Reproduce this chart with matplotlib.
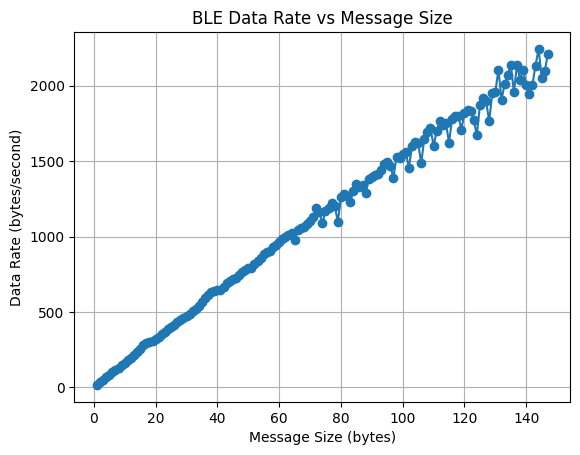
import numpy as np
import matplotlib
matplotlib.use('Agg')
import matplotlib.pyplot as plt

# Message sizes tested (bytes)
message_sizes = list(range(1, 148))

# Measured data rate for each message size (bytes/second)
data_rates = [
    16, 33, 49, 66, 82, 99, 115, 131, 148, 164,
    180, 197, 213, 232, 255, 283, 297, 303, 310, 322,
    336, 354, 370, 384, 398, 416, 430, 445, 462, 474,
    488, 505, 522, 540, 566, 590, 610, 630, 642, 646,
    644, 668, 690, 702, 718, 728, 744, 765, 780, 790,
    792, 815, 840, 860, 884, 895, 905, 928, 946, 962,
    985, 1000, 1012, 1025, 975, 1040, 1055, 1065, 1080, 1105,
    1130, 1187, 1160, 1087, 1170, 1190, 1224, 1200, 1098, 1260,
    1282, 1270, 1231, 1300, 1348, 1330, 1340, 1286, 1380, 1395,
    1408, 1415, 1440, 1480, 1495, 1470, 1390, 1530, 1520, 1545,
    1560, 1453, 1600, 1630, 1620, 1486, 1650, 1690, 1719, 1601,
    1700, 1763, 1740, 1750, 1623, 1780, 1796, 1800, 1709, 1820,
    1840, 1835, 1774, 1674, 1870, 1918, 1900, 1763, 1950, 1960,
    2107, 1907, 2010, 2073, 2140, 1956, 2140, 2040, 2107, 2007,
    1945, 2007, 2134, 2244, 2051, 2095, 2213,
]

plt.figure(figsize=(6.4, 4.8))
plt.plot(message_sizes, data_rates, marker='o')
plt.title('BLE Data Rate vs Message Size')
plt.xlabel('Message Size (bytes)')
plt.ylabel('Data Rate (bytes/second)')
plt.grid(True)

plt.savefig('out.png', bbox_inches='tight')
